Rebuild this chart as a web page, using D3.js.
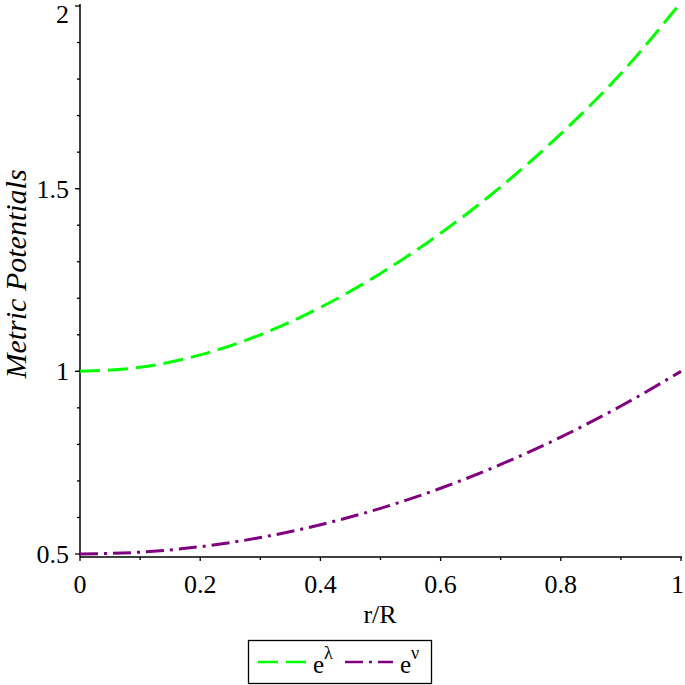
<!DOCTYPE html>
<html lang="en">
<head>
    <meta charset="UTF-8">
    <title>Metric Potentials</title>
    <script src="https://cdnjs.cloudflare.com/ajax/libs/d3/7.8.5/d3.min.js"></script>
    <style>
        body { margin: 0; padding: 0; background: white; }
        svg { display: block; font-family: "Liberation Serif", "Times New Roman", serif; }
    </style>
</head>
<body>
    <div id="chart"></div>
    <script>
        // values
        const radius = [0, 0.1, 0.2, 0.3, 0.4, 0.5, 0.6, 0.7, 0.8, 0.9, 1.0];
        const eLambda = [1.000, 1.011, 1.045, 1.100, 1.175, 1.268, 1.378, 1.505, 1.650, 1.815, 2.010];
        const eNu = [0.500, 0.505, 0.520, 0.545, 0.580, 0.625, 0.680, 0.745, 0.820, 0.905, 1.000];
        const xTicks = [0, 0.2, 0.4, 0.6, 0.8, 1];
        const yTicks = [0.5, 1, 1.5, 2];

        const width = 685, height = 685;

        const svg = d3.select('#chart').append('svg')
            .attr('width', width)
            .attr('height', height);

        const x = d3.scaleLinear().domain([0, 1]).range([80, 681]);
        const y = d3.scaleLinear().domain([0.5, 2]).range([554, 6]);
        const axisY = 557;

        // x axis
        const xAxis = svg.append('g').attr('transform', `translate(0,${axisY})`);
        xAxis.append('line').attr('x1', 80).attr('x2', 682).attr('stroke', 'black').attr('stroke-width', 1.5);
        xAxis.selectAll('.minor').data(d3.range(0.1, 1, 0.2)).enter().append('line')
            .attr('x1', d => x(d)).attr('x2', d => x(d))
            .attr('y1', 0).attr('y2', 3).attr('stroke', 'black').attr('stroke-width', 1.3);
        xAxis.selectAll('.major').data(xTicks).enter().append('line')
            .attr('x1', d => x(d)).attr('x2', d => x(d))
            .attr('y1', 0).attr('y2', 4).attr('stroke', 'black').attr('stroke-width', 1.3);
        // last label is pulled in so it stays inside the page
        xAxis.selectAll('text').data(xTicks).enter().append('text')
            .attr('x', d => d === 1 ? 684 : x(d)).attr('y', 36)
            .attr('text-anchor', d => d === 1 ? 'end' : 'middle').attr('font-size', 26)
            .text(d => d);

        // y axis
        const yAxis = svg.append('g');
        yAxis.append('line').attr('x1', 80).attr('x2', 80).attr('y1', 4).attr('y2', axisY)
            .attr('stroke', 'black').attr('stroke-width', 1.5);
        yAxis.selectAll('.minor').data(d3.range(0.6, 2, 0.1)).enter().append('line')
            .attr('x1', 77).attr('x2', 80)
            .attr('y1', d => y(d)).attr('y2', d => y(d))
            .attr('stroke', 'black').attr('stroke-width', 1.3);
        yAxis.selectAll('.major').data(yTicks).enter().append('line')
            .attr('x1', 75).attr('x2', 80)
            .attr('y1', d => y(d)).attr('y2', d => y(d))
            .attr('stroke', 'black').attr('stroke-width', 1.3);
        yAxis.selectAll('text').data(yTicks).enter().append('text')
            .attr('x', 69).attr('y', d => d === 2 ? 23 : y(d) + 9)
            .attr('text-anchor', 'end').attr('font-size', 26)
            .text(d => d);

        // axis titles
        svg.append('text')
            .attr('x', 380).attr('y', 623)
            .attr('text-anchor', 'middle').attr('font-size', 26)
            .text('r/R');
        svg.append('text')
            .attr('transform', 'translate(26,274) rotate(-90)')
            .attr('text-anchor', 'middle').attr('font-size', 30)
            .attr('font-style', 'italic')
            .text('Metric Potentials');

        // curves
        const line = d3.line().curve(d3.curveMonotoneX);
        svg.append('path')
            .attr('d', line(radius.map((r, i) => [x(r), y(eLambda[i])])))
            .attr('fill', 'none').attr('stroke', '#00ff00').attr('stroke-width', 3)
            .attr('stroke-dasharray', '20,8');
        svg.append('path')
            .attr('d', line(radius.map((r, i) => [x(r), y(eNu[i])])))
            .attr('fill', 'none').attr('stroke', '#800080').attr('stroke-width', 3)
            .attr('stroke-dasharray', '18,6,3,6');

        // legend
        const legend = svg.append('g');
        legend.append('rect')
            .attr('x', 248.5).attr('y', 640.5).attr('width', 183).attr('height', 43)
            .attr('fill', 'white').attr('stroke', 'black').attr('stroke-width', 1.3);
        const items = [
            { color: '#00ff00', dash: '20,8', sym: 'λ', x0: 258 },
            { color: '#800080', dash: '18,6,3,6', sym: 'ν', x0: 345 }
        ];
        items.forEach(it => {
            legend.append('line')
                .attr('x1', it.x0).attr('x2', it.x0 + 48)
                .attr('y1', 662).attr('y2', 662)
                .attr('stroke', it.color).attr('stroke-width', 2.5)
                .attr('stroke-dasharray', it.dash);
            const t = legend.append('text')
                .attr('x', it.x0 + 55).attr('y', 673)
                .attr('font-size', 25);
            t.append('tspan').text('e');
            t.append('tspan').attr('dy', -14).attr('font-size', 18).text(it.sym);
        });
    </script>
</body>
</html>
